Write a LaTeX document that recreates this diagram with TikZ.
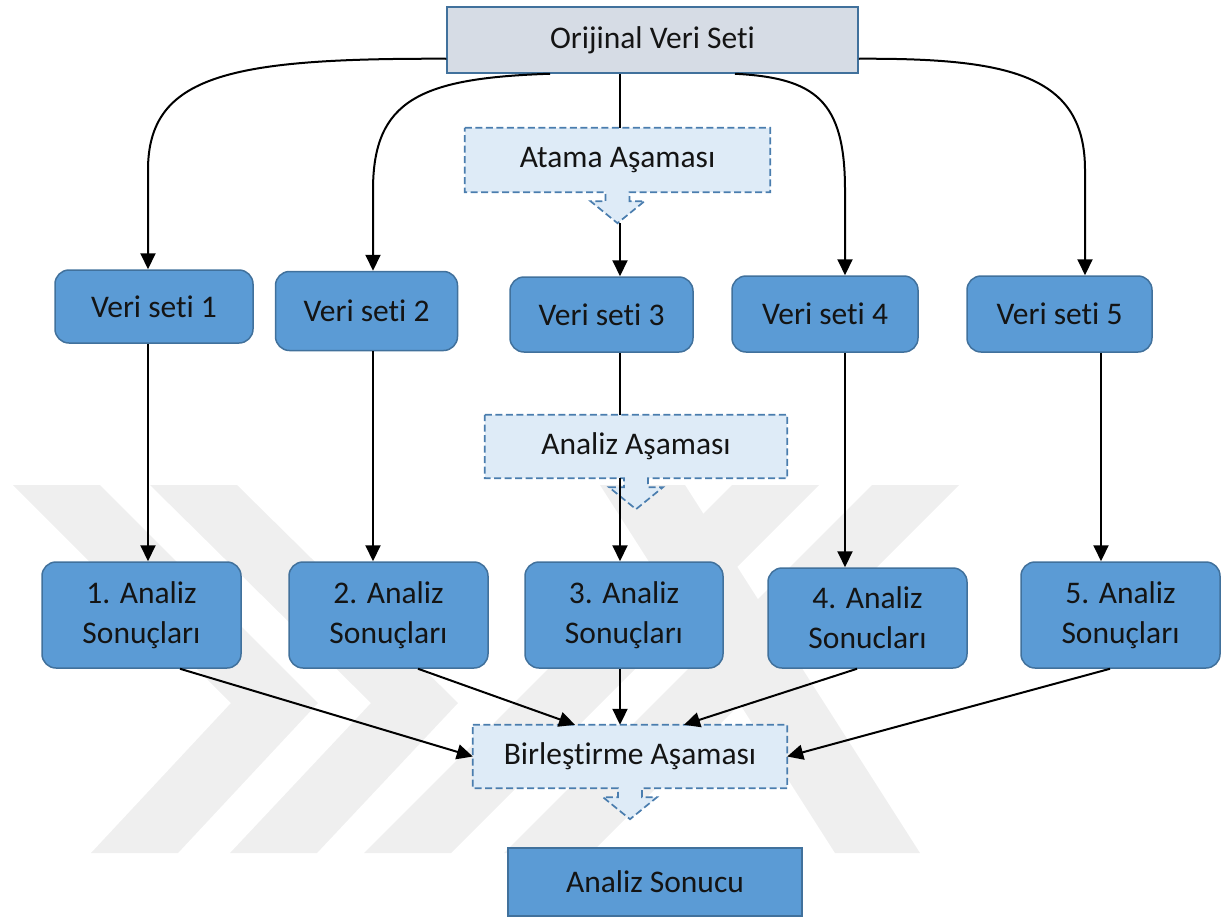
\documentclass[tikz,border=0pt]{standalone}
\usepackage{fontspec}
\setmainfont{Carlito}[Ligatures={NoCommon}]
\usetikzlibrary{arrows.meta,calc,backgrounds}
\pgfdeclarelayer{wmlayer}
\pgfsetlayers{wmlayer,background,main}
\definecolor{boxblue}{HTML}{5B9BD5}
\definecolor{boxline}{HTML}{41719C}
\definecolor{origfill}{HTML}{D6DCE5}
\definecolor{phasefill}{HTML}{DEEBF7}
\definecolor{phaseline}{HTML}{4A7DAE}
\definecolor{wm}{RGB}{239,239,239}
\definecolor{txt}{RGB}{20,20,20}
\begin{document}
\begin{tikzpicture}[x=1pt,y=-1pt,
  font=\fontsize{31.5}{40}\selectfont,
  every node/.style={text=txt},
  vbox/.style={draw=boxline,fill=boxblue,line width=1.5pt,rounded corners=14pt,align=center,inner sep=0pt},
  sqbox/.style={draw=boxline,line width=1.5pt,align=center,inner sep=0pt},
  phasebox/.style={align=center,inner sep=0pt},
  phaseshape/.style={draw=phaseline,fill=phasefill,line width=1.7pt,dash pattern=on 7pt off 3.5pt},
  conn/.style={draw=black,line width=2pt},
  arr/.style={conn,-{Triangle[length=16pt,width=15pt]}},
  wmark/.style={fill=wm,draw=none}
]
\useasboundingbox (0,0) rectangle (1230,921);

% watermark
\begin{pgfonlayer}{wmlayer}
\fill[wmark] (13,485) -- (100,485) -- (318,703) -- (178,853) -- (91,853) -- (231,703) -- cycle;
\fill[wmark] (150,485) -- (237,485) -- (458,703) -- (317,853) -- (230,853) -- (371,703) -- cycle;
\fill[wmark] (364,853) -- (451,853) -- (819,485) -- (732,485) -- cycle;
\fill[wmark] (504,853) -- (591,853) -- (959,485) -- (872,485) -- cycle;
\fill[wmark] (600,485) -- (685,485) -- (920,853) -- (835,853) -- cycle;
\end{pgfonlayer}

% column coordinates
\coordinate (x1) at (148,0);
\coordinate (x2) at (373,0);
\coordinate (x3) at (620,0);
\coordinate (x4) at (845,0);
\coordinate (x5i) at (1085,0);
\coordinate (x5o) at (1101,0);
\coordinate (o2) at (550,0);
\coordinate (o4) at (735,0);
\coordinate (y1) at (180,0);
\coordinate (y2) at (418,0);
\coordinate (y2e) at (575,0);
\coordinate (y4) at (857,0);
\coordinate (y4e) at (684,0);
\coordinate (y5) at (1110,0);

% nodes
\node[sqbox,fill=origfill,minimum width=411pt,minimum height=66pt] (orig) at (652.5,40) {Orijinal Veri Seti};

\node[phasebox,minimum width=305pt,minimum height=64pt] (atama) at (617.5,160) {Atama Aşaması};
\node[phasebox,minimum width=302pt,minimum height=63pt] (analiz) at (636,446.5) {Analiz Aşaması};
\node[phasebox,minimum width=314pt,minimum height=63pt] (birl) at (630,756.5) {Birleştirme Aşaması};

\node[vbox,minimum width=198pt,minimum height=73pt] (vs1) at (154,306.5) {Veri seti 1};
\node[vbox,minimum width=182pt,minimum height=79pt] (vs2) at (366.5,311) {Veri seti 2};
\node[vbox,minimum width=183pt,minimum height=75pt] (vs3) at (601.5,314.5) {Veri seti 3};
\node[vbox,minimum width=186pt,minimum height=76pt] (vs4) at (825,314) {Veri seti 4};
\node[vbox,minimum width=185pt,minimum height=76pt] (vs5) at (1059.5,314) {Veri seti 5};

\node[vbox,minimum width=199pt,minimum height=106pt] (b1) at (141.5,615) {1. Analiz\\Sonuçları};
\node[vbox,minimum width=199pt,minimum height=106pt] (b2) at (388.5,615) {2. Analiz\\Sonuçları};
\node[vbox,minimum width=198pt,minimum height=106pt] (b3) at (624,615) {3. Analiz\\Sonuçları};
\node[vbox,minimum width=199pt,minimum height=100pt] (b4) at (867.5,618) {4. Analiz\\Sonucları};
\node[vbox,minimum width=199pt,minimum height=106pt] (b5) at (1120.5,615) {5. Analiz\\Sonuçları};

\node[sqbox,fill=boxblue,minimum width=294pt,minimum height=68pt] (sonuc) at (655,882) {Analiz Sonucu};

% phase callout shapes (behind text)
\begin{pgfonlayer}{background}
\foreach \n in {atama,analiz,birl}{
  \path[phaseshape] (\n.north west) -- (\n.north east) -- (\n.south east)
    -- ($(\n.south)+(12,0)$) -- ($(\n.south)+(12,9)$) -- ($(\n.south)+(27,9)$)
    -- ($(\n.south)+(0,31)$) -- ($(\n.south)+(-27,9)$) -- ($(\n.south)+(-12,9)$)
    -- ($(\n.south)+(-12,0)$) -- (\n.south west) -- cycle;
}
\end{pgfonlayer}
\coordinate (atamatip) at ($(atama.south)+(0,31)$);

% top connectors
\draw[arr] ($(orig.south west)+(0,-15)$) .. controls (230,58) and (148,75) .. (148,170) -- (vs1.north -| x1);
\draw[arr] (orig.south -| o2) .. controls (420,78) and (373,100) .. (373,190) -- (vs2.north -| x2);
\draw[conn] (orig.south -| x3) -- (atama.north -| x3);
\draw[arr] (atamatip -| x3) -- (vs3.north -| x3);
\draw[arr] (orig.south -| o4) .. controls (815,78) and (845,100) .. (845,190) -- (vs4.north -| x4);
\draw[arr] ($(orig.south east)+(0,-15)$) .. controls (1010,58) and (1085,75) .. (1085,170) -- (vs5.north -| x5i);

% middle connectors
\draw[arr] (vs1.south -| x1) -- (b1.north -| x1);
\draw[arr] (vs2.south -| x2) -- (b2.north -| x2);
\draw[conn] (vs3.south -| x3) -- (analiz.north -| x3);
\draw[arr] (analiz.south -| x3) -- (b3.north -| x3);
\draw[arr] (vs4.south -| x4) -- (b4.north -| x4);
\draw[arr] (vs5.south -| x5o) -- (b5.north -| x5o);

% bottom connectors
\draw[arr] (b1.south -| y1) -- (birl.west);
\draw[arr] (b2.south -| y2) -- (birl.north -| y2e);
\draw[arr] (b3.south -| x3) -- (birl.north -| x3);
\draw[arr] (b4.south -| y4) -- (birl.north -| y4e);
\draw[arr] (b5.south -| y5) -- (birl.east);
\end{tikzpicture}
\end{document}
